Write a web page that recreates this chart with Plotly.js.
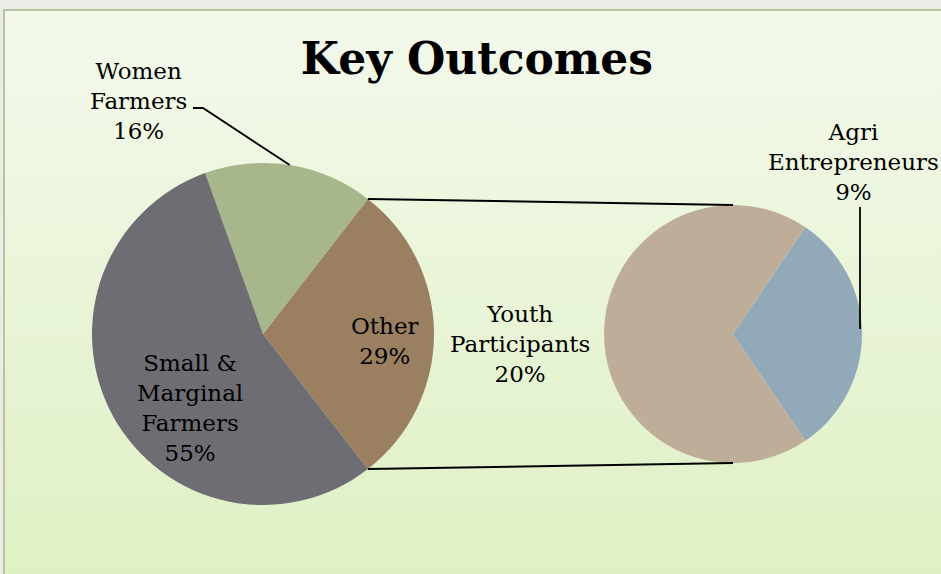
<!DOCTYPE html>
<html><head><meta charset="utf-8">
<script src="https://cdn.plot.ly/plotly-3.0.1.min.js"></script>
<style>
html,body{margin:0;padding:0;background:#ecece6;width:941px;height:574px;overflow:hidden}
#bg{position:absolute;left:3px;top:9px;width:945px;height:580px;border:2px solid #b8c49e;background:linear-gradient(#f4f9ec,#def0c3);box-sizing:border-box}
#chart{position:absolute;left:0;top:0;width:941px;height:574px}
</style></head><body><div id="bg"></div><div id="chart"></div>
<script>
// Primary pie (order: Other first, then counterclockwise)
const mainLabels = ["Other", "Women Farmers", "Small & Marginal Farmers"];
const mainValues = [29, 16, 55];
const mainColors = ["#9a8061", "#a7b78b", "#6e6d73"];
// Secondary pie (breakdown of "Other")
const subLabels = ["Agri Entrepreneurs", "Youth Participants"];
const subValues = [9, 20];
const subColors = ["#92a9b9", "#beae99"];
const titleText = "Key Outcomes";

const W = 941, H = 574;
const FONT = "DejaVu Serif, Georgia, serif";

function wrap(s, max) {
  const words = s.split(" "); const lines = []; let cur = "";
  words.forEach(w => {
    if (!cur) cur = w;
    else if ((cur + " " + w).length <= max) cur += " " + w;
    else { lines.push(cur); cur = w; }
  });
  if (cur) lines.push(cur);
  return lines.join("<br>");
}

// pie geometry in pixels
const P1 = {cx: 263, cy: 334, r: 171};
const P2 = {cx: 733, cy: 334, r: 129};
function dom(p) {
  return {x: [(p.cx - p.r) / W, (p.cx + p.r) / W], y: [1 - (p.cy + p.r) / H, 1 - (p.cy - p.r) / H]};
}
const tot1 = mainValues.reduce((a, b) => a + b, 0);
const tot2 = subValues.reduce((a, b) => a + b, 0);
const otherAng = mainValues[0] / tot1 * 360;
const agriAng = subValues[0] / tot2 * 360;
const rot1 = 90 - otherAng / 2;
const rot2 = 90 - agriAng / 2;

const px = x => x / W, py = y => 1 - y / H;
function edge(p, mathDeg) {
  const a = mathDeg * Math.PI / 180;
  return [p.cx + p.r * Math.cos(a), p.cy - p.r * Math.sin(a)];
}

const traces = [
  {type: "pie", values: mainValues, labels: mainLabels, sort: false, direction: "counterclockwise",
   rotation: rot1, marker: {colors: mainColors, line: {width: 0}}, textinfo: "none", hoverinfo: "label+percent",
   domain: dom(P1), showlegend: false},
  {type: "pie", values: subValues, labels: subLabels, sort: false, direction: "counterclockwise",
   rotation: rot2, marker: {colors: subColors, line: {width: 0}}, textinfo: "none", hoverinfo: "label+value",
   domain: dom(P2), showlegend: false}
];

// connector lines
const topL = edge(P1, otherAng / 2), botL = edge(P1, -otherAng / 2);
const topR = [P2.cx, P2.cy - P2.r], botR = [P2.cx, P2.cy + P2.r];
const line = {color: "#000", width: 2};
const shapes = [
  {type: "line", xref: "paper", yref: "paper", x0: px(topL[0]), y0: py(topL[1]), x1: px(topR[0]), y1: py(topR[1]), line},
  {type: "line", xref: "paper", yref: "paper", x0: px(botL[0]), y0: py(botL[1]), x1: px(botR[0]), y1: py(botR[1]), line}
];
// leader for Women Farmers (mid-angle of slice)
const womenMid = otherAng / 2 + (mainValues[1] / tot1 * 360) / 2;
const wE = edge(P1, womenMid);
shapes.push({type: "path", xref: "paper", yref: "paper",
  path: `M ${px(193)} ${py(108)} L ${px(203)} ${py(108)} L ${px(wE[0])} ${py(wE[1])}`, line: {color: "#000", width: 1.8}});
// leader for Agri Entrepreneurs
const aE = edge(P2, 0);
shapes.push({type: "line", xref: "paper", yref: "paper", x0: px(aE[0] - 2), y0: py(207), x1: px(aE[0] - 2), y1: py(aE[1] - 5), line: {color: "#000", width: 1.8}});

const lf = {family: FONT, size: 23, color: "#000"};
function ann(text, x, y) {
  return {text, x: px(x), y: py(y), xref: "paper", yref: "paper", showarrow: false, xanchor: "center", yanchor: "middle", font: lf, align: "center"};
}
const annotations = [
  ann(wrap(mainLabels[1], 8) + "<br>" + mainValues[1] + "%", 138, 101),
  ann(wrap(mainLabels[2], 8) + "<br>" + mainValues[2] + "%", 190, 408),
  ann(wrap(mainLabels[0], 8) + "<br>" + mainValues[0] + "%", 385, 341),
  ann(wrap(subLabels[1], 8) + "<br>" + subValues[1] + "%", 520, 344),
  ann(wrap(subLabels[0], 8) + "<br>" + subValues[0] + "%", 853, 162)
];

const layout = {
  width: W, height: H, margin: {l: 0, r: 0, t: 0, b: 0},
  paper_bgcolor: "rgba(0,0,0,0)", plot_bgcolor: "rgba(0,0,0,0)",
  title: {text: "<b>" + titleText + "</b>", x: 477 / W, xanchor: "center", y: 1 - 59 / H, yanchor: "middle", yref: "container",
          font: {family: FONT, size: 44, color: "#000"}},
  shapes, annotations, showlegend: false
};
Plotly.newPlot("chart", traces, layout, {displayModeBar: false, staticPlot: true});
</script></body></html>
